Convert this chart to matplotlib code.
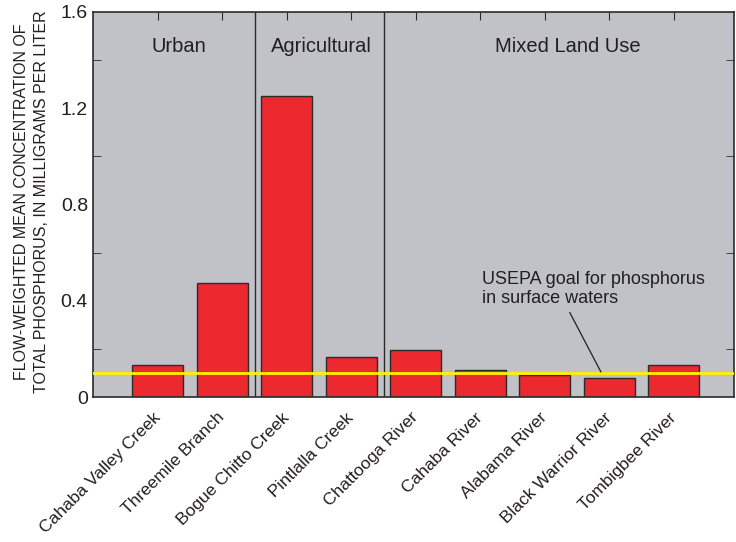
import numpy as np
import matplotlib.pyplot as plt
from matplotlib.ticker import MultipleLocator

plt.rcParams['font.family'] = ['Liberation Sans', 'DejaVu Sans']

sites = ['Cahaba Valley Creek', 'Threemile Branch', 'Bogue Chitto Creek',
         'Pintlalla Creek', 'Chattooga River', 'Cahaba River',
         'Alabama River', 'Black Warrior River', 'Tombigbee River']
conc = [0.135, 0.474, 1.25, 0.165, 0.195, 0.112, 0.093, 0.079, 0.133]
groups = ['Urban', 'Agricultural', 'Mixed Land Use']
group_edges = [-1.0, 1.5, 3.5, 8.93]
goal = 0.1

fig = plt.figure(figsize=(7.36, 5.42), dpi=100)
ax = fig.add_axes([0.127, 0.2675, 0.87, 0.7105])
ax.set_facecolor('#c0c2c8')

x = np.arange(len(sites))
ax.bar(x, conc, width=0.79, color='#ec292e', edgecolor='#2b2b2b', linewidth=1.0, zorder=2)
ax.axhline(goal, color='#fff200', lw=2, zorder=3)

for e in group_edges[1:-1]:
    ax.axvline(e, color='#2b2b2b', lw=1.0, zorder=1)
# label centres
group_xc = [0.33, 2.53, 6.35]
for g, xc in zip(groups, group_xc):
    ax.text(xc, 1.455, g, ha='center', va='center', fontsize=14.5, color='#231f20')

ax.annotate('USEPA goal for phosphorus\nin surface waters', xy=(6.87, 0.104),
            xytext=(5.03, 0.449), textcoords='data', ha='left', va='center',
            fontsize=13, color='#231f20', linespacing=1.2,
            arrowprops=dict(arrowstyle='-', color='#231f20', lw=0.9,
                            shrinkA=2, shrinkB=0, relpos=(0.38, 0)))

ax.set_xlim(group_edges[0], group_edges[-1])
ax.set_ylim(0, 1.6)
ax.set_yticks([0, 0.4, 0.8, 1.2, 1.6])
ax.set_yticklabels(['0', '0.4', '0.8', '1.2', '1.6'])
ax.yaxis.set_minor_locator(MultipleLocator(0.2))
ax.tick_params(axis='y', which='major', direction='in', length=0, labelsize=14, pad=4,
               labelcolor='#231f20')
ax.tick_params(axis='y', which='minor', direction='in', length=6, right=True, left=True,
               color='#2b2b2b')

ax.set_xticks(x)
ax.set_xticklabels(sites, rotation=45, ha='right', va='center', rotation_mode='anchor',
                   fontsize=12.5, color='#231f20')
ax.tick_params(axis='x', direction='in', length=6, top=True, bottom=False, pad=13,
               color='#2b2b2b')

for s in ax.spines.values():
    s.set_color('#2b2b2b')
    s.set_linewidth(1.2)

ax.set_ylabel('FLOW-WEIGHTED MEAN CONCENTRATION OF\nTOTAL PHOSPHORUS, IN MILLIGRAMS PER LITER',
              fontsize=11.5, color='#231f20', linespacing=1.4)
ax.yaxis.set_label_coords(-0.070, 0.508)

fig.savefig('out.png', dpi=100)
